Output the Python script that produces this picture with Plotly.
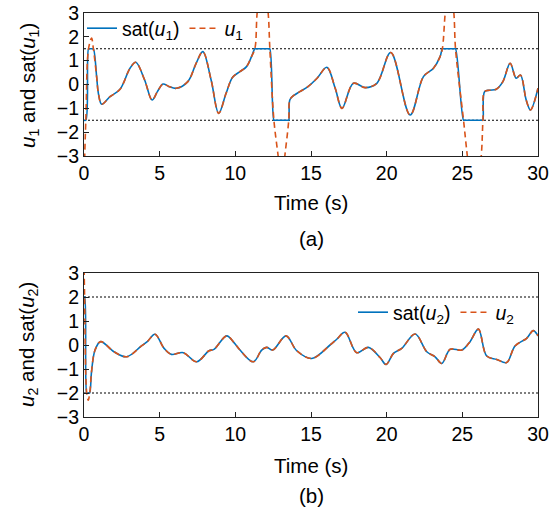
import plotly.graph_objects as go

# ---------------- data ----------------
t_u1 = [0, 0.12, 0.3, 0.5, 0.62, 0.84, 0.95, 1.17, 1.72, 2.38, 3.04, 3.42, 4.0, 4.5, 4.85,
        5.22, 5.6, 6.1, 6.86, 7.41, 7.85, 8.4, 8.9, 9.39, 9.82, 10.3, 10.74, 11.07, 11.29,
        11.44, 11.8, 12.17, 12.28, 12.55, 12.83, 13.05, 13.27, 13.53, 13.6, 13.82, 14.26,
        14.8, 15.4, 16.05, 16.6, 17.05, 17.8, 18.58, 19.35, 20.27, 21.55, 22.43, 23.09,
        23.53, 23.68, 23.87, 24.15, 24.44, 24.55, 25.08, 25.33, 25.8, 26.25, 26.36, 26.47,
        26.8, 27.24, 27.68, 28.16, 28.56, 28.84, 29.22, 29.5, 30]
u1 = [-4.0, -1.5, 1.5, 1.95, 1.5, 0.3, -0.37, -0.83, -0.51, -0.2, 0.68, 0.93, 0.2, -0.65, -0.3,
      0.02, -0.08, -0.16, 0.12, 0.89, 1.38, 0.19, -1.21, -0.37, 0.3, 0.54, 0.75, 1.17, 1.5,
      3.0, 5.0, 3.0, 1.5, -1.5, -3.0, -4.2, -3.0, -1.5, -0.65, -0.48, -0.3,
      -0.09, 0.26, 0.72, -0.16, -1.0, 0.05, -0.13, 0.05, 1.34, -1.28, 0.33, 0.68,
      1.17, 1.5, 3.0, 4.5, 3.0, 1.5, -1.5, -3.0, -5.5, -3.0, -1.5, -0.3,
      -0.24, -0.2, 0.12, 0.89, 0.26, 0.4, -0.65, -1.07, -0.16]

t_sat1 = [0, 0.12, 0.3, 0.36, 0.56, 0.62, 0.84, 0.95, 1.17, 1.72, 2.38, 3.04, 3.42, 4.0, 4.5, 4.85,
          5.22, 5.6, 6.1, 6.86, 7.41, 7.85, 8.4, 8.9, 9.39, 9.82, 10.3, 10.74, 11.07, 11.29,
          11.35, 12.22, 12.28, 12.55, 12.6, 13.48, 13.53, 13.6, 13.82, 14.26,
          14.8, 15.4, 16.05, 16.6, 17.05, 17.8, 18.58, 19.35, 20.27, 21.55, 22.43, 23.09,
          23.53, 23.68, 23.74, 24.49, 24.55, 25.08, 25.14, 26.31, 26.36, 26.47,
          26.8, 27.24, 27.68, 28.16, 28.56, 28.84, 29.22, 29.5, 30]
sat1 = [-1.5, -1.5, 1.5, 1.5, 1.5, 1.5, 0.3, -0.37, -0.83, -0.51, -0.2, 0.68, 0.93, 0.2, -0.65, -0.3,
        0.02, -0.08, -0.16, 0.12, 0.89, 1.38, 0.19, -1.21, -0.37, 0.3, 0.54, 0.75, 1.17, 1.5,
        1.5, 1.5, 1.5, -1.5, -1.5, -1.5, -1.5, -0.65, -0.48, -0.3,
        -0.09, 0.26, 0.72, -0.16, -1.0, 0.05, -0.13, 0.05, 1.34, -1.28, 0.33, 0.68,
        1.17, 1.5, 1.5, 1.5, 1.5, -1.5, -1.5, -1.5, -1.5, -0.3,
        -0.24, -0.2, 0.12, 0.89, 0.26, 0.4, -0.65, -1.07, -0.16]

t_u2 = [0, 0.04, 0.18, 0.28, 0.38, 0.5, 0.73, 1.1, 1.98, 2.82, 3.74, 4.18, 4.69, 5.29, 5.77,
        6.56, 7.44, 8.26, 8.59, 9.43, 9.91, 10.31, 11.19, 11.74, 12.07, 12.47, 13.35, 14.06,
        15.05, 16.26, 16.7, 17.25, 18.02, 18.79, 19.56, 19.96, 20.45, 21.0, 21.88, 22.65,
        23.2, 23.64, 24.2, 24.97, 25.51, 26.06, 26.61, 27.27, 27.93, 28.48, 29.25, 29.69, 30]
u2 = [3.6, 2.0, -2.0, -2.3, -2.0, -1.1, -0.21, 0.14, -0.28, -0.49, -0.07, 0.14, 0.45, -0.14, -0.39,
      -0.32, -0.7, -0.24, -0.18, 0.38, 0.1, -0.21, -0.7, -0.21, -0.1, -0.21, 0.38, -0.24,
      -0.56, 0.0, 0.24, 0.53, -0.32, -0.1, -0.52, -0.81, -0.35, -0.14, 0.46, -0.28,
      -0.49, -0.77, -0.18, -0.21, 0.14, 0.66, -0.46, -0.6, -0.73, -0.04, 0.28, 0.6, 0.38]

t_sat2 = [0, 0.04, 0.18, 0.22, 0.34, 0.38, 0.5, 0.73, 1.1, 1.98, 2.82, 3.74, 4.18, 4.69, 5.29, 5.77,
          6.56, 7.44, 8.26, 8.59, 9.43, 9.91, 10.31, 11.19, 11.74, 12.07, 12.47, 13.35, 14.06,
          15.05, 16.26, 16.7, 17.25, 18.02, 18.79, 19.56, 19.96, 20.45, 21.0, 21.88, 22.65,
          23.2, 23.64, 24.2, 24.97, 25.51, 26.06, 26.61, 27.27, 27.93, 28.48, 29.25, 29.69, 30]
sat2 = [2.0, 2.0, -2.0, -2.0, -2.0, -2.0, -1.1, -0.21, 0.14, -0.28, -0.49, -0.07, 0.14, 0.45, -0.14, -0.39,
        -0.32, -0.7, -0.24, -0.18, 0.38, 0.1, -0.21, -0.7, -0.21, -0.1, -0.21, 0.38, -0.24,
        -0.56, 0.0, 0.24, 0.53, -0.32, -0.1, -0.52, -0.81, -0.35, -0.14, 0.46, -0.28,
        -0.49, -0.77, -0.18, -0.21, 0.14, 0.66, -0.46, -0.6, -0.73, -0.04, 0.28, 0.6, 0.38]

limit1 = 1.5
limit2 = 2.0
x_range = [0, 30]
y_range = [-3, 3]
x_ticks = [0, 5, 10, 15, 20, 25, 30]
y_ticks = [-3, -2, -1, 0, 1, 2, 3]

# ---------------- styling ----------------
BLUE = "#0072BD"
ORANGE = "#D95319"
FONT = "Liberation Sans, Arial, sans-serif"
FS = 19.5
FT = 20.5
W, H = 560, 516

def px_x(p):
    return p / W

def px_y(p):
    return 1 - p / H

fig = go.Figure()

dot = dict(color="black", width=1.2, dash="2px,2px")
# top plot
fig.add_trace(go.Scatter(x=x_range, y=[limit1, limit1], mode="lines", xaxis="x", yaxis="y",
                         line=dot, showlegend=False))
fig.add_trace(go.Scatter(x=x_range, y=[-limit1, -limit1], mode="lines", xaxis="x", yaxis="y",
                         line=dot, showlegend=False))
fig.add_trace(go.Scatter(x=t_sat1, y=sat1, mode="lines", xaxis="x", yaxis="y",
                         line=dict(color=BLUE, width=1.6, shape="spline", smoothing=1),
                         name="sat(<i>u</i><sub>1</sub>)", legend="legend"))
fig.add_trace(go.Scatter(x=t_u1, y=u1, mode="lines", xaxis="x", yaxis="y",
                         line=dict(color=ORANGE, width=1.6, dash="6px,4px", shape="spline", smoothing=1),
                         name="<i>u</i><sub>1</sub>", legend="legend"))

# bottom plot
fig.add_trace(go.Scatter(x=x_range, y=[limit2, limit2], mode="lines", xaxis="x2", yaxis="y2",
                         line=dot, showlegend=False))
fig.add_trace(go.Scatter(x=x_range, y=[-limit2, -limit2], mode="lines", xaxis="x2", yaxis="y2",
                         line=dot, showlegend=False))
fig.add_trace(go.Scatter(x=t_sat2, y=sat2, mode="lines", xaxis="x2", yaxis="y2",
                         line=dict(color=BLUE, width=1.6, shape="spline", smoothing=1),
                         name="sat(<i>u</i><sub>2</sub>)", legend="legend2"))
fig.add_trace(go.Scatter(x=t_u2, y=u2, mode="lines", xaxis="x2", yaxis="y2",
                         line=dict(color=ORANGE, width=1.6, dash="6px,4px", shape="spline", smoothing=1),
                         name="<i>u</i><sub>2</sub>", legend="legend2"))

axis_common = dict(showgrid=False, zeroline=False, showline=True, linecolor="#222",
                   linewidth=1, mirror=True, ticks="inside", ticklen=5, tickwidth=1,
                   tickcolor="#222", automargin=False,
                   tickfont=dict(family=FONT, size=FS, color="black"))

xdom = [px_x(84), px_x(538)]
fig.update_layout(
    width=W, height=H,
    margin=dict(l=0, r=0, t=0, b=0, autoexpand=False),
    paper_bgcolor="white", plot_bgcolor="white",
    font=dict(family=FONT, size=FS, color="black"),
    xaxis=dict(domain=xdom, range=x_range, tickvals=x_ticks, anchor="y", **axis_common),
    yaxis=dict(domain=[px_y(156), px_y(13)], range=y_range, tickvals=y_ticks, anchor="x", **axis_common),
    xaxis2=dict(domain=xdom, range=x_range, tickvals=x_ticks, anchor="y2", **axis_common),
    yaxis2=dict(domain=[px_y(417), px_y(273)], range=y_range, tickvals=y_ticks, anchor="x2", **axis_common),
    legend=dict(orientation="h", x=px_x(82), y=px_y(9), xanchor="left", yanchor="top",
                bgcolor="rgba(0,0,0,0)", font=dict(family=FONT, size=FS), itemwidth=30),
    legend2=dict(orientation="h", x=px_x(353), y=px_y(293), xanchor="left", yanchor="top",
                 bgcolor="rgba(0,0,0,0)", font=dict(family=FONT, size=FS), itemwidth=30),
)

ann = []
for cy, txt in [(202, "Time (s)"), (239, "(a)"), (465, "Time (s)"), (495, "(b)")]:
    ann.append(dict(x=px_x(311), y=px_y(cy), xref="paper", yref="paper", text=txt,
                    showarrow=False, xanchor="center", yanchor="middle",
                    font=dict(family=FONT, size=FT, color="black")))
ann.append(dict(x=px_x(29), y=px_y(86), xref="paper", yref="paper",
                text="<i>u</i><sub>1</sub> and sat(<i>u</i><sub>1</sub>)", textangle=-90,
                showarrow=False, xanchor="center", yanchor="middle",
                font=dict(family=FONT, size=FT, color="black")))
ann.append(dict(x=px_x(28), y=px_y(345), xref="paper", yref="paper",
                text="<i>u</i><sub>2</sub> and sat(<i>u</i><sub>2</sub>)", textangle=-90,
                showarrow=False, xanchor="center", yanchor="middle",
                font=dict(family=FONT, size=FT, color="black")))
fig.update_layout(annotations=ann)

fig.write_html("out.html", config={"displayModeBar": False},
               post_script="document.body.style.margin='0';")
